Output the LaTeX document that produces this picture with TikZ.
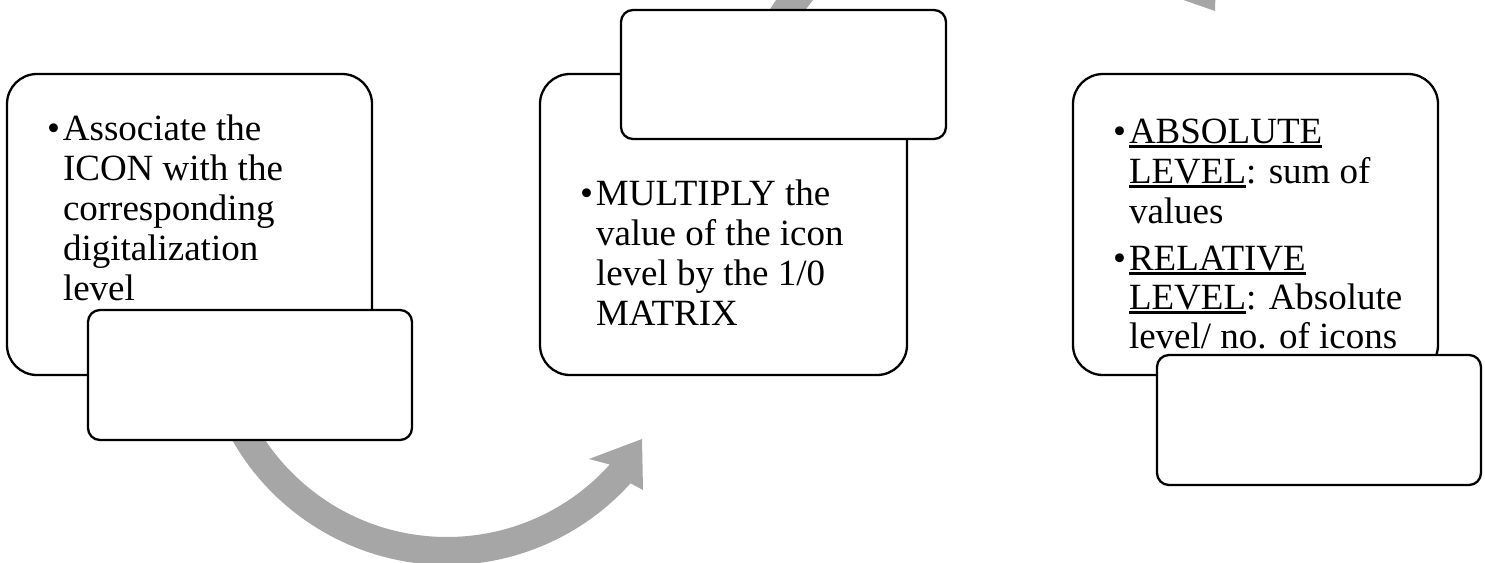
\documentclass[tikz,border=0pt]{standalone}
\usepackage{fontspec}
\setmainfont{Liberation Serif}
\definecolor{arrowgray}{RGB}{166,166,166}
\newcommand\bul{\makebox[16pt][l]{•}}
\newcommand\ulx[1]{\setbox0\hbox{#1}\rlap{\rule[-4.5pt]{\wd0}{2.5pt}}\box0}
\tikzset{
  bigbox/.style={draw=black, line width=2.3pt, rounded corners=30pt, fill=white,
    anchor=north west, outer sep=0pt, inner sep=0pt, minimum width=365pt, minimum height=301pt},
  smallbox/.style={draw=black, line width=2.3pt, rounded corners=12pt, fill=white,
    anchor=north west, outer sep=0pt, inner sep=0pt, minimum width=324pt, minimum height=130pt},
  txt/.style={anchor=base west, inner sep=0pt, outer sep=0pt, font=\fontsize{37}{40}\selectfont},
  flowarrow/.style={fill=arrowgray, draw=none},
}
\begin{document}
\begin{tikzpicture}[x=1pt, y=1pt, yscale=-1]
\useasboundingbox (0,0) rectangle (1485,562);
\fill[white] (0,0) rectangle (1485,562);
\clip (0,0) rectangle (1485,562);

% curved arrow below: box 1 -> box 2
\fill[flowarrow] ([shift={(447,318)}]160:247) arc[start angle=160, end angle=42, radius=247]
  -- (643,490) -- (642,439) -- (589,459)
  -- ([shift={(447,318)}]42:219) arc[start angle=42, end angle=160, radius=219] -- cycle;

% curved arrow above: box 2 -> box 3 (mirror image, slightly wider)
\begin{scope}[shift={(517.2,450)}, xscale=1.087, yscale=-1]
  \fill[flowarrow] ([shift={(447,318)}]160:247) arc[start angle=160, end angle=42, radius=247]
    -- (643,490) -- (642,439) -- (589,459)
    -- ([shift={(447,318)}]42:219) arc[start angle=42, end angle=160, radius=219] -- cycle;
\end{scope}

% big boxes
\node[bigbox] (b1) at (7,74) {};
\node[bigbox, minimum width=367pt] (b2) at (540,74) {};
\node[bigbox] (b3) at (1073,74) {};

% small boxes
\node[smallbox] (s1) at (88,310) {};
\node[smallbox, minimum width=325pt, minimum height=129pt] (s2) at (621,10) {};
\node[smallbox] (s3) at (1157,355) {};

% text of box 1
\node[txt] (t1a) at (47,140) {\bul Associate the};
\node[txt] (t1b) at (63,180) {ICON with the};
\node[txt] (t1c) at (63,220) {corresponding};
\node[txt] (t1d) at (63,260) {digitalization};
\node[txt] (t1e) at (63,300) {level};

% text of box 2
\node[txt] (t2a) at (580,205) {\bul MULTIPLY the};
\node[txt] (t2b) at (596,245) {value of the icon};
\node[txt] (t2c) at (596,285) {level by the 1/0};
\node[txt] (t2d) at (596,325) {MATRIX};

% text of box 3
\node[txt] (t3a) at (1113,143) {\bul\ulx{ABSOLUTE}};
\node[txt] (t3b) at (1129,183) {\ulx{LEVEL}: sum of};
\node[txt] (t3c) at (1129,223) {values};
\node[txt] (t3d) at (1113,270) {\bul\ulx{RELATIVE}};
\node[txt] (t3e) at (1129,309) {\ulx{LEVEL}: Absolute};
\node[txt] (t3f) at (1129,348) {level/ no. of icons};
\end{tikzpicture}
\end{document}
